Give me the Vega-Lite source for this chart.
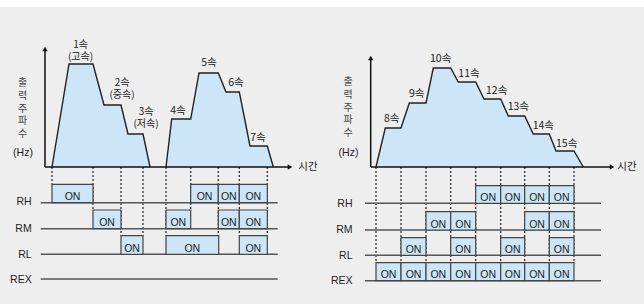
{
"$schema": "https://vega.github.io/schema/vega-lite/v6.json",
"width": 644,
"height": 297,
"autosize": {"type": "none"},
"padding": {"top": 7, "left": 0, "right": 0, "bottom": 0},
"background": "#ffffff",
"config": {"view": {"fill": "#eeeeee", "stroke": null}},
"datasets": {
"profile": [
{"s":"A","x":52,"y":167},{"s":"A","x":69,"y":64},{"s":"A","x":93,"y":64},{"s":"A","x":104,"y":105},{"s":"A","x":121,"y":105},{"s":"A","x":128,"y":134},{"s":"A","x":143,"y":134},{"s":"A","x":150,"y":167},
{"s":"B","x":166,"y":167},{"s":"B","x":171.7,"y":119},{"s":"B","x":190.7,"y":119},{"s":"B","x":199,"y":73},{"s":"B","x":218.3,"y":73},{"s":"B","x":226,"y":92},{"s":"B","x":239.3,"y":92},{"s":"B","x":250,"y":146},{"s":"B","x":267.3,"y":146},{"s":"B","x":273.3,"y":167},
{"s":"C","x":376,"y":167},{"s":"C","x":385.3,"y":128},{"s":"C","x":401,"y":128},{"s":"C","x":409.3,"y":103},{"s":"C","x":426,"y":103},{"s":"C","x":433.3,"y":68},{"s":"C","x":450.7,"y":68},{"s":"C","x":458.3,"y":82},{"s":"C","x":475.7,"y":82},{"s":"C","x":484,"y":99},{"s":"C","x":500.7,"y":99},{"s":"C","x":508.3,"y":116},{"s":"C","x":524.7,"y":116},{"s":"C","x":533.3,"y":134},{"s":"C","x":549.3,"y":134},{"s":"C","x":556,"y":151},{"s":"C","x":574,"y":151},{"s":"C","x":583.3,"y":167}
],
"axes": [
{"x":45,"y":167,"x2":45,"y2":50},{"x":45,"y":167,"x2":289,"y2":167},
{"x":370.7,"y":167,"x2":370.7,"y2":59},{"x":370.7,"y":167,"x2":611,"y2":167}
],
"arrows": [
{"x":45,"y":49,"d":"up"},{"x":290,"y":167,"d":"right"},
{"x":370.7,"y":58,"d":"up"},{"x":612,"y":167,"d":"right"}
],
"dashes": [
{"x":52,"y":167,"y2":184.3},{"x":93,"y":167,"y2":210},{"x":121,"y":167,"y2":235.7},{"x":143,"y":167,"y2":235.7},{"x":166,"y":167,"y2":235.7},{"x":190.7,"y":167,"y2":210},{"x":218.3,"y":167,"y2":235.7},{"x":239.3,"y":167,"y2":235.7},{"x":267.3,"y":167,"y2":235.7},
{"x":376,"y":167,"y2":262.7},{"x":401,"y":167,"y2":262.7},{"x":426,"y":167,"y2":262.7},{"x":450.7,"y":167,"y2":262.7},{"x":475.7,"y":167,"y2":262.7},{"x":500.7,"y":167,"y2":262.7},{"x":524.7,"y":167,"y2":262.7},{"x":549.3,"y":167,"y2":262.7},{"x":574,"y":167,"y2":262.7}
],
"lanes": [
{"x":40.7,"x2":277.7,"y":202.7},{"x":40.7,"x2":277.7,"y":228.7},{"x":40.7,"x2":277.7,"y":254.3},{"x":40.7,"x2":277.7,"y":279},
{"x":365,"x2":601,"y":203.3},{"x":365,"x2":601,"y":230},{"x":365,"x2":601,"y":255.3},{"x":365,"x2":601,"y":280.7}
],
"boxes": [
{"x":52,"x2":93,"cx":72.5,"y":184.3,"y2":202.7},
{"x":190.7,"x2":218.3,"cx":204.5,"y":184.3,"y2":202.7},
{"x":218.3,"x2":239.3,"cx":228.8,"y":184.3,"y2":202.7},
{"x":239.3,"x2":267.3,"cx":253.3,"y":184.3,"y2":202.7},
{"x":93,"x2":121,"cx":107,"y":210,"y2":228.7},
{"x":166,"x2":190.7,"cx":178.3,"y":210,"y2":228.7},
{"x":218.3,"x2":239.3,"cx":228.8,"y":210,"y2":228.7},
{"x":239.3,"x2":267.3,"cx":253.3,"y":210,"y2":228.7},
{"x":121,"x2":143,"cx":132,"y":235.7,"y2":254.3},
{"x":166,"x2":218.7,"cx":192.3,"y":235.7,"y2":254.3},
{"x":239.3,"x2":267.3,"cx":253.3,"y":235.7,"y2":254.3},
{"x":475.7,"x2":500.7,"cx":488.2,"y":185.7,"y2":203.3},
{"x":500.7,"x2":524.7,"cx":512.7,"y":185.7,"y2":203.3},
{"x":524.7,"x2":549.3,"cx":537,"y":185.7,"y2":203.3},
{"x":549.3,"x2":574,"cx":561.6,"y":185.7,"y2":203.3},
{"x":426,"x2":450.7,"cx":438.3,"y":211.7,"y2":230},
{"x":450.7,"x2":475.7,"cx":463.2,"y":211.7,"y2":230},
{"x":524.7,"x2":549.3,"cx":537,"y":211.7,"y2":230},
{"x":549.3,"x2":574,"cx":561.6,"y":211.7,"y2":230},
{"x":401,"x2":426,"cx":413.5,"y":237.7,"y2":255.3},
{"x":450.7,"x2":475.7,"cx":463.2,"y":237.7,"y2":255.3},
{"x":500.7,"x2":524.7,"cx":512.7,"y":237.7,"y2":255.3},
{"x":549.3,"x2":574,"cx":561.6,"y":237.7,"y2":255.3},
{"x":376,"x2":401,"cx":388.5,"y":262.7,"y2":280.7},
{"x":401,"x2":426,"cx":413.5,"y":262.7,"y2":280.7},
{"x":426,"x2":450.7,"cx":438.3,"y":262.7,"y2":280.7},
{"x":450.7,"x2":475.7,"cx":463.2,"y":262.7,"y2":280.7},
{"x":475.7,"x2":500.7,"cx":488.2,"y":262.7,"y2":280.7},
{"x":500.7,"x2":524.7,"cx":512.7,"y":262.7,"y2":280.7},
{"x":524.7,"x2":549.3,"cx":537,"y":262.7,"y2":280.7},
{"x":549.3,"x2":574,"cx":561.6,"y":262.7,"y2":280.7}
],
"pairs": [
{"x":80.5,"y":44.5,"t":["1속","(고속)"]},
{"x":122,"y":82.5,"t":["2속","(중속)"]},
{"x":146,"y":111.5,"t":["3속","(저속)"]}
],
"speeds": [
{"x":178,"y":111,"t":"4속"},{"x":209,"y":63,"t":"5속"},{"x":236,"y":83,"t":"6속"},{"x":258,"y":138,"t":"7속"},
{"x":391.7,"y":119,"t":"8속"},{"x":416.7,"y":94,"t":"9속"},{"x":440.7,"y":59,"t":"10속"},{"x":469,"y":74,"t":"11속"},{"x":496.7,"y":91,"t":"12속"},{"x":518.3,"y":107,"t":"13속"},{"x":543.3,"y":126,"t":"14속"},{"x":566.7,"y":144,"t":"15속"},
{"x":308,"y":167,"t":"시간"},{"x":627,"y":167,"t":"시간"}
],
"ylab": [
{"x":22.5,"y":83,"t":["출","력","주","파","수"]},
{"x":348,"y":82,"t":["출","력","주","파","수"]}
],
"hz": [{"x":23,"y":153,"t":"(Hz)"},{"x":348.5,"y":153,"t":"(Hz)"}],
"lanelab": [
{"x":31.7,"y":202,"t":"RH"},{"x":31.7,"y":228.5,"t":"RM"},{"x":31.7,"y":254.5,"t":"RL"},{"x":31.7,"y":279.5,"t":"REX"},
{"x":352.5,"y":203.5,"t":"RH"},{"x":352.5,"y":230,"t":"RM"},{"x":352.5,"y":255.5,"t":"RL"},{"x":352.5,"y":280.5,"t":"REX"}
]
},
"layer": [
{"data": {"name": "profile"}, "mark": {"type": "area", "color": "#cce6f7", "interpolate": "linear"},
 "encoding": {"x": {"field": "x", "type": "quantitative", "scale": {"domain": [0, 644], "nice": false, "zero": false}, "axis": null},
  "y": {"field": "y", "type": "quantitative", "scale": {"domain": [7, 304], "reverse": true, "nice": false, "zero": false}, "axis": null},
  "y2": {"datum": 167}, "detail": {"field": "s"}}},
{"data": {"name": "dashes"}, "mark": {"type": "rule", "color": "#222222", "strokeWidth": 1.2, "strokeDash": [2, 2]},
 "encoding": {"x": {"field": "x", "type": "quantitative"}, "y": {"field": "y", "type": "quantitative"}, "y2": {"field": "y2"}}},
{"data": {"name": "lanes"}, "mark": {"type": "rule", "color": "#555555", "strokeWidth": 1.5},
 "encoding": {"x": {"field": "x", "type": "quantitative"}, "x2": {"field": "x2"}, "y": {"field": "y", "type": "quantitative"}}},
{"data": {"name": "boxes"}, "mark": {"type": "rect", "fill": "#cce6f7", "stroke": "#444444", "strokeWidth": 1.2},
 "encoding": {"x": {"field": "x", "type": "quantitative"}, "x2": {"field": "x2"}, "y": {"field": "y", "type": "quantitative"}, "y2": {"field": "y2"}}},
{"data": {"name": "boxes"}, "mark": {"type": "text", "text": "ON", "font": "Liberation Sans", "fontSize": 10.5, "color": "#222222", "baseline": "alphabetic", "dy": -2.5},
 "encoding": {"x": {"field": "cx", "type": "quantitative"}, "y": {"field": "y2", "type": "quantitative"}}},
{"data": {"name": "profile"}, "mark": {"type": "line", "color": "#222222", "strokeWidth": 1.4, "interpolate": "linear"},
 "encoding": {"x": {"field": "x", "type": "quantitative"}, "y": {"field": "y", "type": "quantitative"}, "detail": {"field": "s"}}},
{"data": {"name": "axes"}, "mark": {"type": "rule", "color": "#111111", "strokeWidth": 1.5},
 "encoding": {"x": {"field": "x", "type": "quantitative"}, "x2": {"field": "x2"}, "y": {"field": "y", "type": "quantitative"}, "y2": {"field": "y2"}}},
{"data": {"name": "arrows"}, "mark": {"type": "point", "filled": true, "color": "#111111", "size": 28, "opacity": 1},
 "encoding": {"x": {"field": "x", "type": "quantitative"}, "y": {"field": "y", "type": "quantitative"},
  "shape": {"field": "d", "type": "nominal", "scale": {"domain": ["up", "right"], "range": ["triangle-up", "triangle-right"]}, "legend": null}}},
{"data": {"name": "pairs"}, "mark": {"type": "text", "font": "Noto Sans CJK KR", "fontSize": 10, "lineHeight": 12, "color": "#222222", "baseline": "middle", "align": "center"},
 "encoding": {"x": {"field": "x", "type": "quantitative"}, "y": {"field": "y", "type": "quantitative"}, "text": {"field": "t"}}},
{"data": {"name": "speeds"}, "mark": {"type": "text", "font": "Noto Sans CJK KR", "fontSize": 10.5, "color": "#222222", "baseline": "middle", "align": "center"},
 "encoding": {"x": {"field": "x", "type": "quantitative"}, "y": {"field": "y", "type": "quantitative"}, "text": {"field": "t"}}},
{"data": {"name": "ylab"}, "mark": {"type": "text", "font": "Noto Sans CJK KR", "fontSize": 10, "lineHeight": 12.8, "color": "#444444", "baseline": "middle", "align": "center"},
 "encoding": {"x": {"field": "x", "type": "quantitative"}, "y": {"field": "y", "type": "quantitative"}, "text": {"field": "t"}}},
{"data": {"name": "hz"}, "mark": {"type": "text", "font": "Liberation Sans", "fontSize": 10.5, "color": "#222222", "baseline": "middle", "align": "center"},
 "encoding": {"x": {"field": "x", "type": "quantitative"}, "y": {"field": "y", "type": "quantitative"}, "text": {"field": "t"}}},
{"data": {"name": "lanelab"}, "mark": {"type": "text", "font": "Liberation Sans", "fontSize": 10.5, "color": "#222222", "baseline": "middle", "align": "right"},
 "encoding": {"x": {"field": "x", "type": "quantitative"}, "y": {"field": "y", "type": "quantitative"}, "text": {"field": "t"}}}
]
}
